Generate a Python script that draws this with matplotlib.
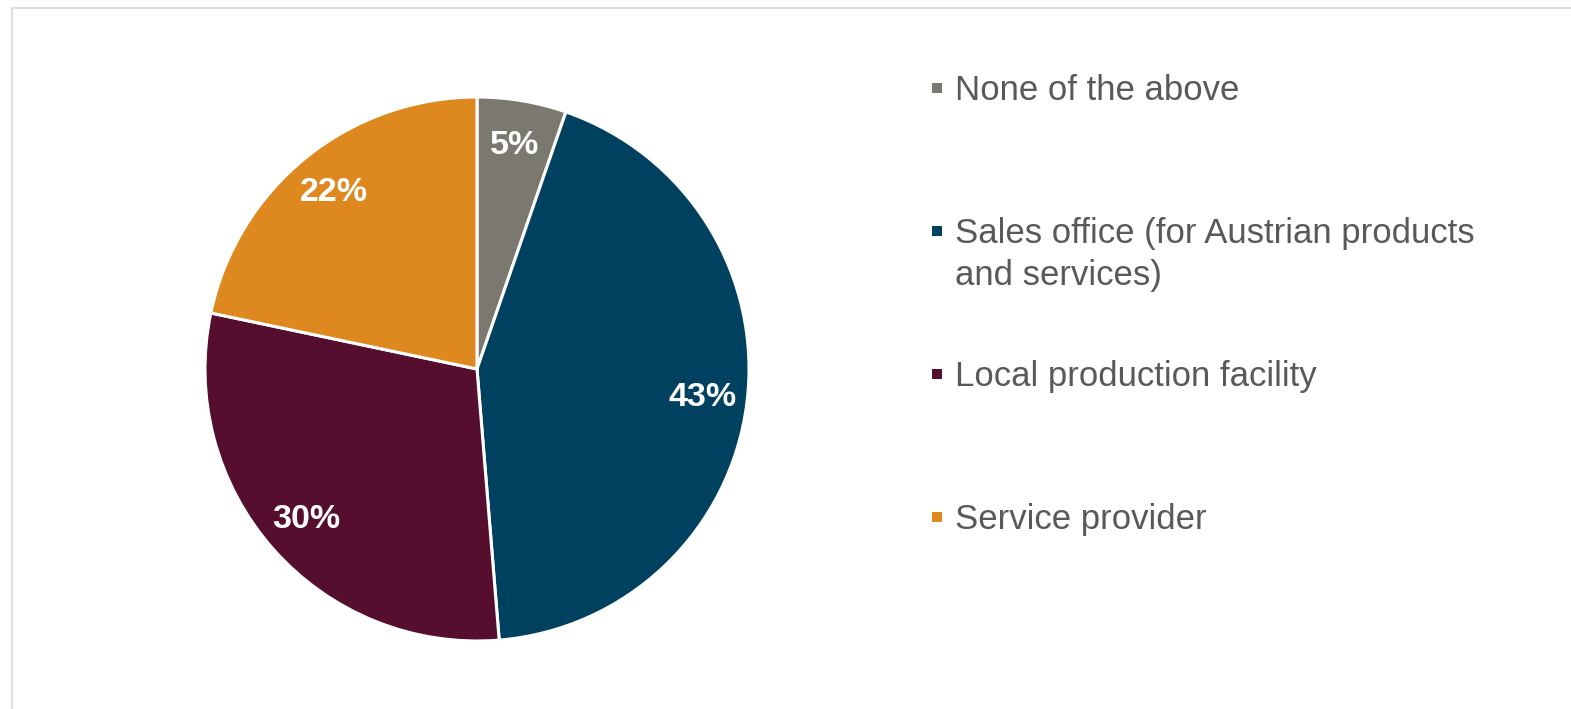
import matplotlib.pyplot as plt
from matplotlib.patches import Rectangle

# data
labels = ['None of the above', 'Sales office (for Austrian products\nand services)',
          'Local production facility', 'Service provider']
values = [5.3, 43.4, 29.6, 21.7]
colors = ['#7b7870', '#00415f', '#560e2f', '#dd891f']

plt.rcParams['font.family'] = ['Liberation Sans', 'DejaVu Sans']

W, H = 1571, 709
fig = plt.figure(figsize=(W / 100, H / 100), dpi=100)

# light frame around the chart area (runs off the right and bottom edge)
fig.patches.append(Rectangle((12 / W, -0.05), 1.1, 1 - 8 / H + 0.05,
                             transform=fig.transFigure, fill=False,
                             edgecolor='#dedede', linewidth=1.6))

# pie, centre ~ (477, 369) px, radius ~272 px
cx, cy, r = 477, 369, 272
ax = fig.add_axes([(cx - r) / W, (H - cy - r) / H, 2 * r / W, 2 * r / H])
wedges, texts, autotexts = ax.pie(
    values, colors=colors, startangle=90, counterclock=False,
    autopct='%.0f%%', pctdistance=0.835,
    wedgeprops=dict(edgecolor='white', linewidth=2.2),
    textprops=dict(color='white', fontsize=24.5, fontweight='bold'))
ax.set_xlim(-1, 1)
ax.set_ylim(-1, 1)
ax.set_aspect('equal')

# legend on the right, drawn by hand so the two-line entry keeps its marker on the first line
y0, step = 88, 143
for i, (lab, col) in enumerate(zip(labels, colors)):
    y = y0 + i * step
    fig.patches.append(Rectangle((932 / W, (H - y - 5) / H), 10 / W, 10 / H,
                                 transform=fig.transFigure, facecolor=col,
                                 edgecolor='none'))
    fig.text(955 / W, (H - y + 14) / H, lab, fontsize=25, color='#595959',
             va='top', ha='left', linespacing=1.33)

fig.savefig('out.png', dpi=100, facecolor='white')
